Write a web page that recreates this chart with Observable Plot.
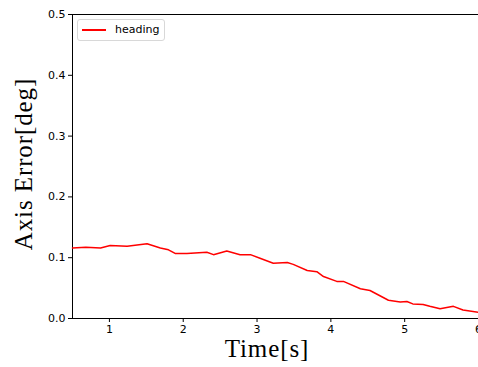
<!DOCTYPE html>
<html>
<head>
<meta charset="utf-8">
<script src="https://cdn.jsdelivr.net/npm/d3@7"></script>
<script src="https://cdn.jsdelivr.net/npm/@observablehq/plot@0.6"></script>
<style>
  html, body { margin: 0; padding: 0; background: white; }
  #wrap { position: relative; width: 478px; height: 367px; overflow: hidden; }
  .legend { position: absolute; left: 77px; top: 19px; width: 88px; height: 22px; box-sizing: border-box;
    border: 1px solid #d8d8d8; border-radius: 3px; background: rgba(255,255,255,0.8);
    font: 11px "DejaVu Sans", sans-serif; color: #000; }
  .legend .sw { position: absolute; left: 4px; top: 9px; width: 24px; height: 2px; background: #ff0000; }
  .legend .lb { position: absolute; left: 37px; top: 3px; }
  .ylab { position: absolute; left: 24px; top: 164px; transform: translate(-50%, -50%) rotate(-90deg);
    font: 25px "Liberation Serif", serif; letter-spacing: 0.9px; white-space: nowrap; color: #000; }
  .xlab { position: absolute; left: 267px; top: 335px; transform: translateX(-50%);
    font: 25px "Liberation Serif", serif; letter-spacing: 0.9px; white-space: nowrap; color: #000; }
</style>
</head>
<body>
<div id="wrap"></div>
<script>
const seriesName = "heading";
const time = [0.5, 0.68, 0.88, 1.01, 1.24, 1.51, 1.69, 1.80, 1.89, 2.05, 2.32, 2.41, 2.59, 2.77, 2.91, 3.04, 3.22, 3.41, 3.49, 3.68, 3.81, 3.90, 4.08, 4.17, 4.40, 4.53, 4.78, 4.94, 5.03, 5.11, 5.25, 5.34, 5.48, 5.66, 5.79, 6.0];
const headingErr = [0.116, 0.117, 0.116, 0.120, 0.119, 0.123, 0.116, 0.113, 0.107, 0.107, 0.109, 0.105, 0.111, 0.105, 0.105, 0.099, 0.091, 0.092, 0.089, 0.079, 0.077, 0.069, 0.061, 0.061, 0.049, 0.046, 0.030, 0.027, 0.028, 0.024, 0.023, 0.020, 0.016, 0.020, 0.014, 0.010];
const xDomain = [0.5, 6];
const yDomain = [0, 0.5];
const xTicks = [1, 2, 3, 4, 5, 6];
const yTicks = [0, 0.1, 0.2, 0.3, 0.4, 0.5];

const data = time.map((t, i) => ({t, v: headingErr[i]}));

const chart = Plot.plot({
  width: 478,
  height: 367,
  marginLeft: 72,
  marginRight: 0,
  marginTop: 14,
  marginBottom: 49,
  style: {fontFamily: "'DejaVu Sans', sans-serif", fontSize: "11px", color: "#000", background: "white", overflow: "visible"},
  x: {domain: xDomain, ticks: xTicks, tickFormat: d3.format("d"), label: null, tickSize: 4, tickPadding: 3},
  y: {domain: yDomain, ticks: yTicks, tickFormat: d3.format(".1f"), label: null, tickSize: 4, tickPadding: 3},
  marks: [
    Plot.ruleY([yDomain[1]], {stroke: "#000", strokeWidth: 1}),
    Plot.ruleX([xDomain[0]], {stroke: "#000", strokeWidth: 1}),
    Plot.line(data, {x: "t", y: "v", stroke: "#ff0000", strokeWidth: 1.5, curve: "linear"}),
    Plot.ruleY([yDomain[0]], {stroke: "#000", strokeWidth: 1}),
    Plot.axisX({ticks: xTicks, tickFormat: d3.format("d"), tickSize: 4, tickPadding: 3, label: null}),
    Plot.axisY({ticks: yTicks, tickFormat: d3.format(".1f"), tickSize: 4, tickPadding: 3, label: null})
  ]
});

const wrap = document.getElementById("wrap");
wrap.appendChild(chart);
const ylab = document.createElement("div"); ylab.className = "ylab"; ylab.textContent = "Axis Error[deg]"; wrap.appendChild(ylab);
const xlab = document.createElement("div"); xlab.className = "xlab"; xlab.textContent = "Time[s]"; wrap.appendChild(xlab);
const lg = document.createElement("div"); lg.className = "legend";
lg.innerHTML = '<div class="sw"></div><div class="lb"></div>';
lg.querySelector(".lb").textContent = seriesName;
wrap.appendChild(lg);
</script>
</body>
</html>
